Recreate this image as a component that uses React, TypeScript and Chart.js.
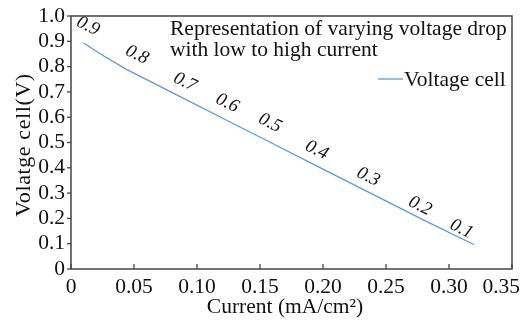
import React, { useEffect, useRef } from "react";
import { Chart, registerables } from "chart.js";

Chart.register(...registerables);

// ---- data ----
const currents = [0.01, 0.025, 0.044, 0.08, 0.12, 0.16, 0.2, 0.24, 0.28, 0.32];
const voltages = [0.893, 0.845, 0.789, 0.698, 0.597, 0.496, 0.395, 0.294, 0.193, 0.096];

const xTickValues = [0, 0.05, 0.1, 0.15, 0.2, 0.25, 0.3, 0.35];
const xTickLabels = ["0", "0.05", "0.10", "0.15", "0.20", "0.25", "0.30", "0.35"];
const yTickLabels = ["0", "0.1", "0.2", "0.3", "0.4", "0.5", "0.6", "0.7", "0.8", "0.9", "1.0"];

const pointLabels = ["0.9", "0.8", "0.7", "0.6", "0.5", "0.4", "0.3", "0.2", "0.1"];
const pointLabelX = [0.0135, 0.0524, 0.0905, 0.124, 0.158, 0.195, 0.236, 0.277, 0.31];
const pointLabelY = [0.96, 0.846, 0.739, 0.656, 0.577, 0.47, 0.364, 0.249, 0.158];

const noteLines = ["Representation of varying voltage drop", "with low to high current"];
const seriesName = "Voltage cell";
const xTitle = "Current (mA/cm\u00B2)";
const yTitle = "Volatge cell(V)";

const FONT = "Liberation Serif";
const FS = 21.5;
const FRAME = "#444444";
const LINE = "#5b9bd5";
const TEXT = "#111111";

const decorPlugin = {
  id: "decor",
  afterDraw(chart: any) {
    const { ctx, chartArea, width } = chart;
    const { left, right, top, bottom } = chartArea;
    const xs = chart.scales.x;
    const ys = chart.scales.y;
    ctx.save();
    // frame
    ctx.strokeStyle = FRAME;
    ctx.lineWidth = 1.5;
    ctx.strokeRect(left, top, right - left, bottom - top);
    // x ticks inward
    ctx.lineWidth = 1.3;
    for (let i = 0; i < xTickValues.length; i++) {
      const px = xs.getPixelForValue(xTickValues[i]);
      ctx.beginPath();
      ctx.moveTo(px, bottom);
      ctx.lineTo(px, bottom - 5);
      ctx.stroke();
    }
    // y ticks outward
    for (let i = 0; i < yTickLabels.length; i++) {
      const py = ys.getPixelForValue(i * 0.1);
      ctx.beginPath();
      ctx.moveTo(left, py);
      ctx.lineTo(left - 4, py);
      ctx.stroke();
    }
    // x tick labels (last one kept inside the canvas)
    ctx.fillStyle = TEXT;
    ctx.font = `${FS}px "${FONT}", serif`;
    ctx.textBaseline = "alphabetic";
    ctx.textAlign = "left";
    for (let i = 0; i < xTickLabels.length; i++) {
      const px = xs.getPixelForValue(xTickValues[i]);
      const w = ctx.measureText(xTickLabels[i]).width;
      let x0 = px - w / 2;
      if (x0 + w > width - 2) x0 = width - 2 - w;
      ctx.fillText(xTickLabels[i], x0, bottom + 24);
    }
    // rotated italic labels along the line
    ctx.font = `italic 18.5px "${FONT}", serif`;
    ctx.textAlign = "center";
    ctx.textBaseline = "middle";
    for (let i = 0; i < pointLabels.length; i++) {
      const px = xs.getPixelForValue(pointLabelX[i]);
      const py = ys.getPixelForValue(pointLabelY[i]);
      ctx.save();
      ctx.translate(px, py);
      ctx.rotate(0.45);
      ctx.fillText(pointLabels[i], 0, 0);
      ctx.restore();
    }
    // note text
    ctx.font = `${FS}px "${FONT}", serif`;
    ctx.textAlign = "left";
    ctx.textBaseline = "alphabetic";
    ctx.fillText(noteLines[0], left + 99, top + 19);
    ctx.fillText(noteLines[1], left + 99, top + 40);
    // legend
    const ly = top + 63;
    ctx.strokeStyle = LINE;
    ctx.lineWidth = 1.3;
    ctx.beginPath();
    ctx.moveTo(right - 134, ly);
    ctx.lineTo(right - 109, ly);
    ctx.stroke();
    ctx.fillText(seriesName, right - 108, ly + 7);
    // axis titles
    ctx.textAlign = "center";
    ctx.fillText(xTitle, 285, 313);
    ctx.save();
    ctx.translate(30, 145);
    ctx.rotate(-Math.PI / 2);
    ctx.font = `22px "${FONT}", serif`;
    try {
      (ctx as any).letterSpacing = "0.6px";
    } catch (e) {}
    ctx.fillText(yTitle, 0, 0);
    ctx.restore();
    ctx.restore();
  },
};

export default function App() {
  const ref = useRef<HTMLCanvasElement | null>(null);
  useEffect(() => {
    document.body.style.margin = "0";
    const canvas = ref.current!;
    let chart: any = null;
    let cancelled = false;
    const make = () => {
      if (cancelled) return;
      chart = new Chart(canvas, {
        type: "line",
        data: {
          datasets: [
            {
              label: seriesName,
              data: currents.map((c, i) => ({ x: c, y: voltages[i] })),
              borderColor: LINE,
              borderWidth: 1.3,
              pointRadius: 0,
              fill: false,
              tension: 0,
            },
          ],
        },
        options: {
          responsive: false,
          animation: false,
          devicePixelRatio: 1,
          layout: { padding: { top: 16, right: 10, left: 0, bottom: 0 } },
          plugins: { legend: { display: false }, tooltip: { enabled: false } },
          scales: {
            x: {
              type: "linear",
              min: 0,
              max: 0.35,
              grid: { display: false, drawTicks: false },
              border: { display: false },
              afterFit: (s: any) => {
                s.height = 51;
                s.paddingLeft = 0;
                s.paddingRight = 0;
              },
              ticks: { display: false, stepSize: 0.05 },
            },
            y: {
              type: "linear",
              min: 0,
              max: 1,
              grid: { display: false, drawTicks: false },
              border: { display: false },
              afterFit: (s: any) => {
                s.width = 71;
                s.paddingTop = 0;
                s.paddingBottom = 0;
              },
              ticks: {
                stepSize: 0.1,
                padding: 6,
                color: TEXT,
                font: { family: `"${FONT}", serif`, size: FS },
                autoSkip: false,
                callback: (_v: any, i: number) => yTickLabels[i],
              },
            },
          },
        },
        plugins: [decorPlugin],
      } as any);
    };
    const fontsApi: any = (document as any).fonts;
    if (fontsApi && fontsApi.load) {
      Promise.all([
        fontsApi.load(`${FS}px "${FONT}"`),
        fontsApi.load(`italic 18px "${FONT}"`),
      ])
        .catch(() => null)
        .then(make);
    } else {
      make();
    }
    return () => {
      cancelled = true;
      if (chart) chart.destroy();
    };
  }, []);
  return (
    <div style={{ width: 522, height: 320 }}>
      <canvas ref={ref} width={522} height={320} style={{ display: "block" }} />
    </div>
  );
}
